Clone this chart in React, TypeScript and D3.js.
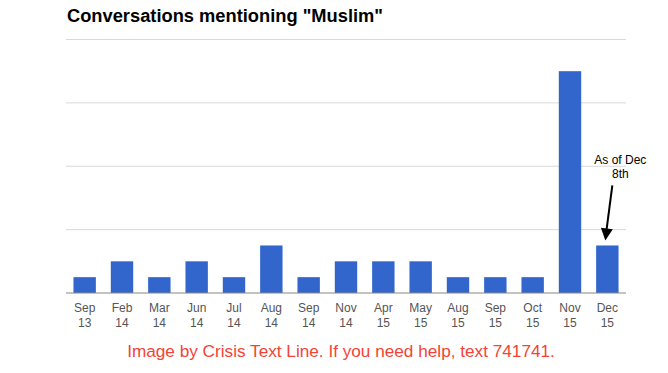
import React, { useEffect, useRef } from 'react';
import * as d3 from 'd3';

const months = ['Sep', 'Feb', 'Mar', 'Jun', 'Jul', 'Aug', 'Sep', 'Nov', 'Apr', 'May', 'Aug', 'Sep', 'Oct', 'Nov', 'Dec'];
const years = ['13', '14', '14', '14', '14', '14', '14', '14', '15', '15', '15', '15', '15', '15', '15'];
const counts = [1, 2, 1, 2, 1, 3, 1, 2, 2, 2, 1, 1, 1, 14, 3];
const gridTicks = [0, 4, 8, 12, 16];

const W = 668;
const H = 373;

const App = () => {
    const ref = useRef<SVGSVGElement>(null);

    useEffect(() => {
        const svg = d3.select(ref.current);
        svg.selectAll('*').remove();

        const margin = { top: 39.5, right: 42, bottom: 80, left: 66 };
        const width = W - margin.left - margin.right;
        const height = H - margin.top - margin.bottom;
        const font = 'Arial, "Liberation Sans", sans-serif';

        const keys = months.map((m, i) => i);
        const x = d3.scaleBand<number>().domain(keys).range([0, width]).paddingInner(0.4).paddingOuter(0.2);
        const y = d3.scaleLinear().domain([0, 16]).range([height, 0]);

        // title
        svg.append('text')
            .attr('x', 67)
            .attr('y', 22)
            .attr('font-family', font)
            .attr('font-weight', 'bold')
            .attr('font-size', 18.3)
            .attr('fill', '#000')
            .text('Conversations mentioning "Muslim"');

        const g = svg.append('g').attr('transform', `translate(${margin.left},${margin.top})`);

        // grid lines
        g.selectAll('.grid')
            .data(gridTicks.slice(1))
            .enter()
            .append('line')
            .attr('x1', 0)
            .attr('x2', width)
            .attr('y1', d => y(d))
            .attr('y2', d => y(d))
            .attr('stroke', '#d9d9d9')
            .attr('stroke-width', 1);

        // bars
        g.selectAll('.bar')
            .data(counts)
            .enter()
            .append('rect')
            .attr('x', (d, i) => x(i)!)
            .attr('y', d => y(d))
            .attr('width', x.bandwidth())
            .attr('height', d => height - y(d))
            .attr('fill', '#3366cc');

        // baseline
        g.append('line')
            .attr('x1', 0)
            .attr('x2', width)
            .attr('y1', y(0))
            .attr('y2', y(0))
            .attr('stroke', '#888')
            .attr('stroke-width', 1.2);

        // x labels
        const lab = g.selectAll('.lab')
            .data(keys)
            .enter()
            .append('text')
            .attr('text-anchor', 'middle')
            .attr('font-family', font)
            .attr('font-size', 12)
            .attr('fill', '#555')
            .attr('transform', d => `translate(${x(d)! + x.bandwidth() / 2},${height + 19})`);
        lab.append('tspan').attr('x', 0).attr('y', 0).text(d => months[d]);
        lab.append('tspan').attr('x', 0).attr('y', 15).text(d => years[d]);

        // annotation
        const last = counts.length - 1;
        const cx = x(last)! + x.bandwidth() / 2;
        const ann = g.append('text')
            .attr('text-anchor', 'middle')
            .attr('font-family', font)
            .attr('font-size', 12)
            .attr('fill', '#000')
            .attr('transform', `translate(${cx + 13},${y(counts[last]) - 81})`);
        ann.append('tspan').attr('x', 0).attr('y', 0).text('As of Dec');
        ann.append('tspan').attr('x', 0).attr('y', 14).text('8th');

        const x0 = cx + 5, y0 = y(counts[last]) - 60;
        const x1 = cx - 2, y1 = y(counts[last]) - 5;
        g.append('line')
            .attr('x1', x0).attr('y1', y0)
            .attr('x2', x1 + 1).attr('y2', y1 - 9)
            .attr('stroke', '#000')
            .attr('stroke-width', 2);
        const ang = Math.atan2(y1 - y0, x1 - x0);
        const hl = 12, hw = 6;
        const bx = x1 - hl * Math.cos(ang), by = y1 - hl * Math.sin(ang);
        const px = -Math.sin(ang) * hw, py = Math.cos(ang) * hw;
        g.append('path')
            .attr('d', `M${x1},${y1}L${bx + px},${by + py}L${bx - px},${by - py}Z`)
            .attr('fill', '#000');

        // footer
        svg.append('text')
            .attr('x', 341)
            .attr('y', 357)
            .attr('text-anchor', 'middle')
            .attr('font-family', font)
            .attr('font-size', 17.2)
            .attr('fill', '#f44336')
            .text('Image by Crisis Text Line. If you need help, text 741741.');
    }, []);

    return (
        <div style={{ position: 'absolute', left: 0, top: 0 }}>
            <svg ref={ref} width={W} height={H} style={{ display: 'block', background: '#fff' }} />
        </div>
    );
};

export default App;
